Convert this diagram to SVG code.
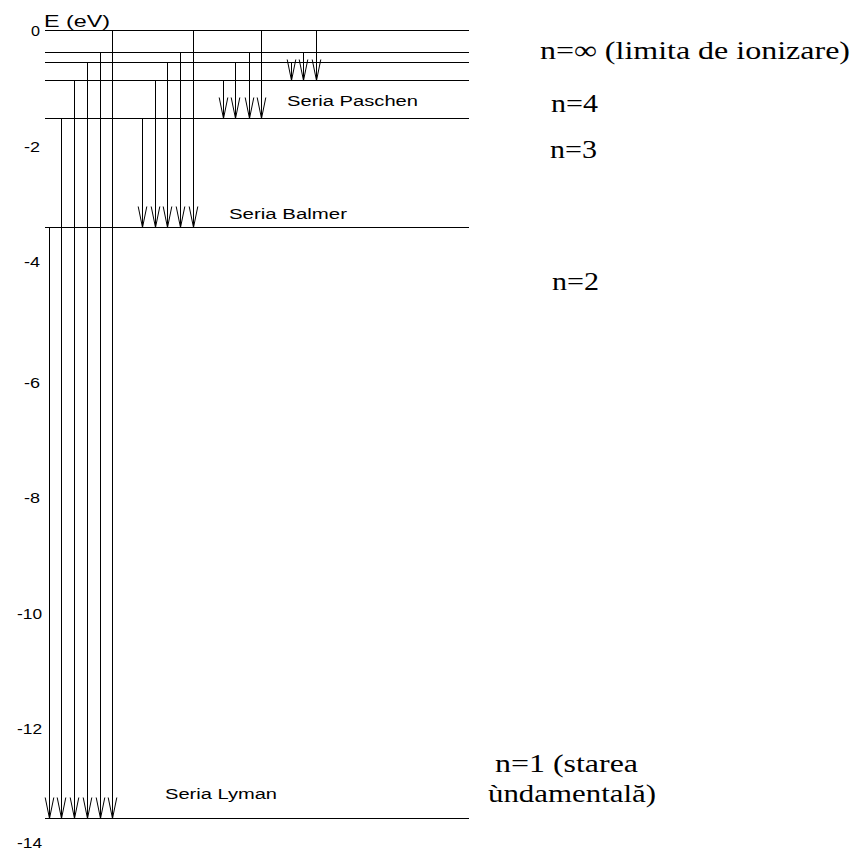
<svg xmlns="http://www.w3.org/2000/svg" width="853" height="850" viewBox="0 0 853 850">
<style>
.lvl{stroke:#000;stroke-width:1;fill:none}
.tr{stroke:#000;stroke-width:1;fill:none;marker-end:url(#vh)}
.ax{font-family:"Liberation Sans",Arial,sans-serif;font-size:14px;fill:#000}
.ser{font-family:"Liberation Sans",Arial,sans-serif;font-size:14px;fill:#000}
.nl{font-family:"Liberation Serif","Times New Roman",serif;font-size:26px;fill:#000}
</style>
<defs>
<marker id="vh" markerUnits="userSpaceOnUse" orient="auto" refX="0" refY="0" markerWidth="30" markerHeight="12" overflow="visible">
<path d="M-21,-4.3 L0,0 L-21,4.3" fill="none" stroke="#000" stroke-width="1"/>
</marker>
</defs>
<rect width="853" height="850" fill="#fff"/>
<g id="axis">
<text class="ax" x="44" y="26.5" style="font-size:16px" textLength="66" lengthAdjust="spacingAndGlyphs">E (eV)</text>
<text class="ax" x="40" y="36" text-anchor="end" textLength="9" lengthAdjust="spacingAndGlyphs">0</text>
<text class="ax" x="40" y="151.5" text-anchor="end" textLength="16" lengthAdjust="spacingAndGlyphs">-2</text>
<text class="ax" x="40" y="267" text-anchor="end" textLength="16" lengthAdjust="spacingAndGlyphs">-4</text>
<text class="ax" x="40" y="388" text-anchor="end" textLength="16" lengthAdjust="spacingAndGlyphs">-6</text>
<text class="ax" x="40" y="503" text-anchor="end" textLength="16" lengthAdjust="spacingAndGlyphs">-8</text>
<text class="ax" x="42" y="619" text-anchor="end" textLength="25" lengthAdjust="spacingAndGlyphs">-10</text>
<text class="ax" x="42" y="734" text-anchor="end" textLength="25" lengthAdjust="spacingAndGlyphs">-12</text>
<text class="ax" x="42" y="848" text-anchor="end" textLength="25" lengthAdjust="spacingAndGlyphs">-14</text>
</g>
<g id="level-inf"><line class="lvl" x1="45" y1="30.5" x2="469" y2="30.5"/>
<text class="nl" x="540" y="59" textLength="310" lengthAdjust="spacingAndGlyphs">n=∞ (limita de ionizare)</text></g>
<g id="level-6"><line class="lvl" x1="45" y1="52.5" x2="469" y2="52.5"/></g>
<g id="level-5"><line class="lvl" x1="45" y1="62.5" x2="469" y2="62.5"/></g>
<g id="level-4"><line class="lvl" x1="45" y1="80.5" x2="469" y2="80.5"/>
<text class="nl" x="551" y="112" textLength="47" lengthAdjust="spacingAndGlyphs">n=4</text></g>
<g id="level-3"><line class="lvl" x1="45" y1="118.5" x2="469" y2="118.5"/>
<text class="nl" x="550" y="158" textLength="47" lengthAdjust="spacingAndGlyphs">n=3</text></g>
<g id="level-2"><line class="lvl" x1="45" y1="227.5" x2="469" y2="227.5"/>
<text class="nl" x="552" y="290" textLength="47" lengthAdjust="spacingAndGlyphs">n=2</text></g>
<g id="level-1"><line class="lvl" x1="45" y1="818.5" x2="469" y2="818.5"/>
<text class="nl" x="495" y="772" textLength="143" lengthAdjust="spacingAndGlyphs">n=1 (starea</text>
<text class="nl" x="488" y="802" textLength="168" lengthAdjust="spacingAndGlyphs">ùndamentală)</text></g>
<g id="series-labels">
<text class="ser" x="287" y="106" textLength="131" lengthAdjust="spacingAndGlyphs">Seria Paschen</text>
<text class="ser" x="229" y="219" textLength="118" lengthAdjust="spacingAndGlyphs">Seria Balmer</text>
<text class="ser" x="165" y="799" textLength="112" lengthAdjust="spacingAndGlyphs">Seria Lyman</text>
</g>
<g id="transitions">
<line class="tr" x1="49.5" y1="227.5" x2="49.5" y2="818.5"/>
<line class="tr" x1="61.5" y1="118.5" x2="61.5" y2="818.5"/>
<line class="tr" x1="74.5" y1="80.5" x2="74.5" y2="818.5"/>
<line class="tr" x1="87.5" y1="62.5" x2="87.5" y2="818.5"/>
<line class="tr" x1="100.5" y1="52.5" x2="100.5" y2="818.5"/>
<line class="tr" x1="112.5" y1="30.5" x2="112.5" y2="818.5"/>
<line class="tr" x1="142.5" y1="118.5" x2="142.5" y2="227.5"/>
<line class="tr" x1="155.5" y1="80.5" x2="155.5" y2="227.5"/>
<line class="tr" x1="167.5" y1="62.5" x2="167.5" y2="227.5"/>
<line class="tr" x1="180.5" y1="52.5" x2="180.5" y2="227.5"/>
<line class="tr" x1="193.5" y1="30.5" x2="193.5" y2="227.5"/>
<line class="tr" x1="223.5" y1="80.5" x2="223.5" y2="118.5"/>
<line class="tr" x1="235.5" y1="62.5" x2="235.5" y2="118.5"/>
<line class="tr" x1="249.5" y1="52.5" x2="249.5" y2="118.5"/>
<line class="tr" x1="261.5" y1="30.5" x2="261.5" y2="118.5"/>
<line class="tr" x1="291.5" y1="62.5" x2="291.5" y2="80.5"/>
<line class="tr" x1="303.5" y1="52.5" x2="303.5" y2="80.5"/>
<line class="tr" x1="316.5" y1="30.5" x2="316.5" y2="80.5"/>
</g>
</svg>
